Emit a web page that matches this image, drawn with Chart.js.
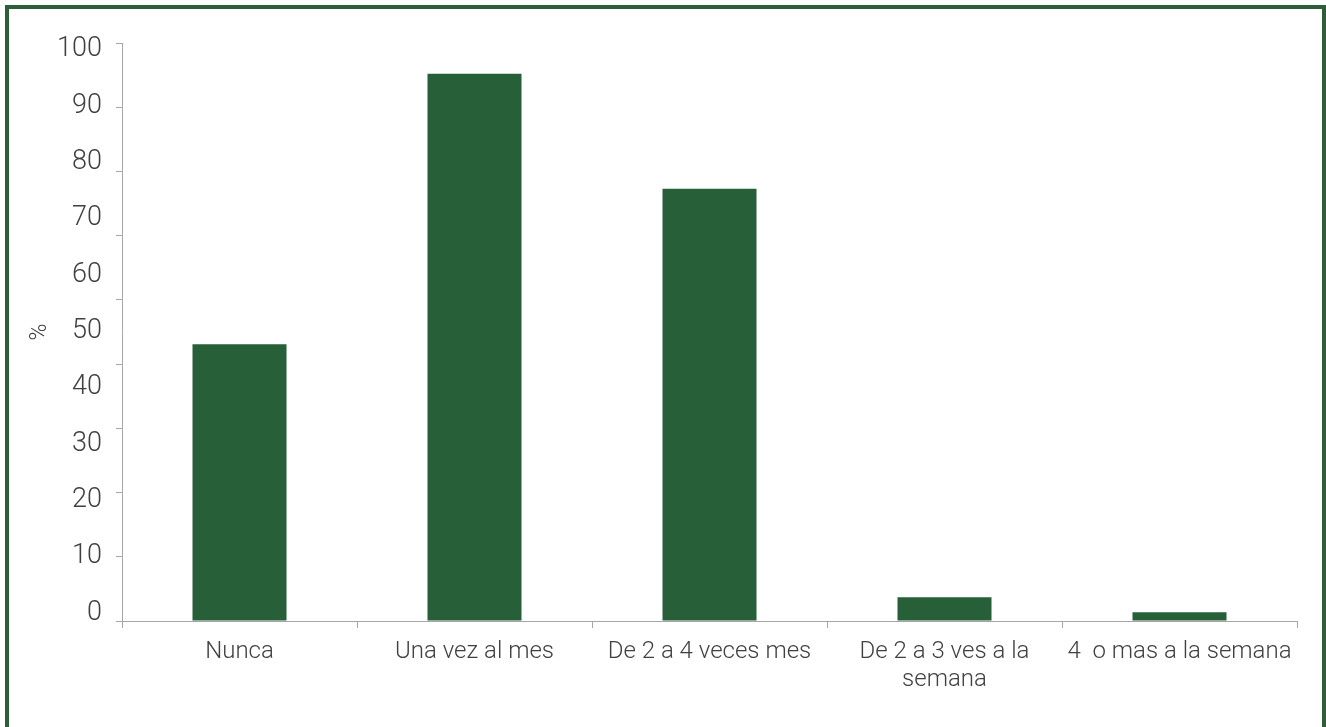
<!DOCTYPE html>
<html>
<head>
<meta charset="utf-8">
<script src="https://cdn.jsdelivr.net/npm/chart.js@4.4.0/dist/chart.umd.min.js"></script>
<style>
  html, body { margin: 0; padding: 0; background: #fff; overflow: hidden; }
  #frame { position: absolute; left: 5px; top: 5px; width: 1313px; height: 740px;
           border: 4px solid #2e5d39; border-bottom: none; }
  #wrap { position: absolute; left: 0; top: 0; width: 1326px; height: 727px; }
</style>
</head>
<body>
<div id="frame"></div>
<div id="wrap"><canvas id="freqChart"></canvas></div>
<script>
///////////////////////////////////////////////////////////////////////////
// DATA
///////////////////////////////////////////////////////////////////////////
var categories = [
    'Nunca',
    'Una vez al mes',
    'De 2 a 4 veces mes',
    ['De 2 a 3 ves a la', 'semana'],
    '4  o mas a la semana'
];
var percentValues = [47.9, 94.7, 74.8, 4.1, 1.5];
var yTickLabels = [0, 10, 20, 30, 40, 50, 60, 70, 80, 90, 100];
var yMarkCount = 10;   // tick marks drawn on the axis line

///////////////////////////////////////////////////////////////////////////
// CHART
///////////////////////////////////////////////////////////////////////////
function plotBarChart(labels, values, canvasID){
    var ctx = document.getElementById(canvasID).getContext('2d');
    var axisGrey = '#a6a6a6';
    var textGrey = '#404040';

    var data = {
        labels: labels,
        datasets: [{
            data: values,
            backgroundColor: '#265f38',
            borderWidth: 0,
            barPercentage: 0.4,
            categoryPercentage: 1.0
        }]
    };

    var options = {
        responsive: true,
        maintainAspectRatio: false,
        animation: false,
        layout: { padding: { top: 43, right: 29, bottom: 0, left: 0 } },
        plugins: { legend: { display: false }, tooltip: { enabled: false } },
        scales: {
            x: {
                offset: true,
                grid: { offset: true, drawOnChartArea: false, tickLength: 7, color: axisGrey },
                border: { color: axisGrey },
                ticks: {
                    color: textGrey, padding: 10, maxRotation: 0, autoSkip: false,
                    font: { family: 'Roboto', weight: 300, size: 24, lineHeight: 1.17 }
                },
                afterFit: function(scale){ scale.height = 106; }
            },
            y: {
                position: 'left',
                weight: 0,
                min: 0,
                max: 100,
                grid: { drawOnChartArea: false, tickLength: 6, color: axisGrey },
                border: { color: axisGrey },
                ticks: { display: false },
                afterBuildTicks: function(scale){
                    var t = [];
                    for (var i = 0; i < yMarkCount; i++) t.push({ value: 100 * i / (yMarkCount - 1) });
                    scale.ticks = t;
                },
                afterFit: function(scale){ scale.width = 6; }
            },
            yLabels: {
                position: 'left',
                weight: 1,
                min: -1.45,
                max: 101.15,
                grid: { display: false, drawTicks: false },
                border: { display: false },
                ticks: {
                    color: textGrey, padding: 14,
                    font: { family: 'Roboto', weight: 300, size: 27 }
                },
                afterBuildTicks: function(scale){
                    scale.ticks = yTickLabels.map(function(v){ return { value: v }; });
                },
                title: {
                    display: true, text: '%', color: textGrey,
                    padding: { top: 26, bottom: 0 },
                    font: { family: 'Roboto', weight: 300, size: 23 }
                },
                afterFit: function(scale){ scale.width = 116; }
            }
        }
    };

    var chart = new Chart(ctx, {
        type: 'bar',
        data: data,
        options: options
    });
    return chart;
}

plotBarChart(categories, percentValues, 'freqChart');
</script>
</body>
</html>
